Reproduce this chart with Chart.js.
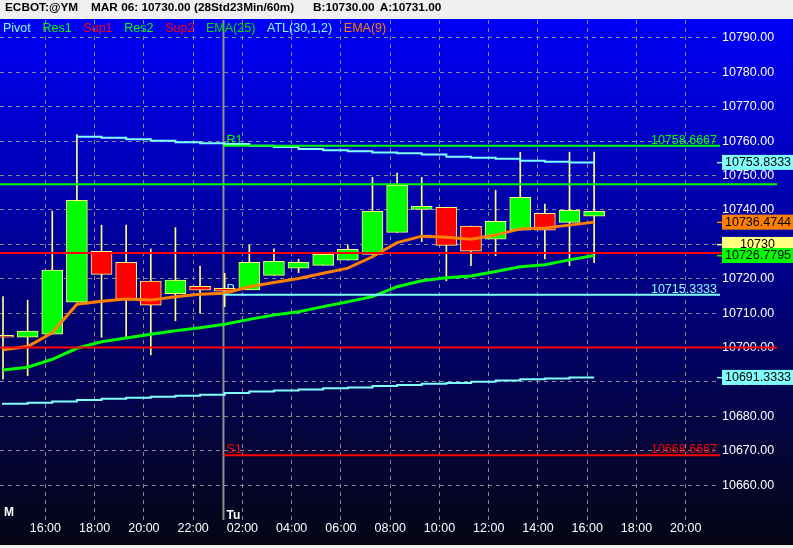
<!DOCTYPE html>
<html>
<head>
<meta charset="utf-8">
<title>ECBOT:@YM 60m</title>
<script src="https://cdn.jsdelivr.net/npm/chart.js@4.4.1/dist/chart.umd.min.js"></script>
<style>
  html, body { margin: 0; padding: 0; background: #f0f0f0; }
  #wrap { width: 793px; height: 548px; }
</style>
</head>
<body>
<div id="wrap"><canvas id="myChart" width="793" height="548"></canvas></div>
<script>
// tick labels
const timeLabels = ['16:00','18:00','20:00','22:00','02:00','04:00','06:00','08:00','10:00','12:00','14:00','16:00','18:00','20:00'];
const priceTicks = [10660,10670,10680,10690,10700,10710,10720,10730,10740,10750,10760,10770,10780,10790];

// hourly candles (one per bar, left to right)
const opens  = [10703.0,10703.0,10703.9,10713.2,10728.0,10724.8,10719.3,10715.7,10717.8,10717.2,10716.8,10721.0,10723.1,10723.9,10725.4,10727.1,10733.5,10740.2,10740.8,10735.3,10731.5,10734.1,10739.0,10736.4,10738.2];
const highs  = [10714.8,10713.8,10739.7,10761.9,10735.6,10735.6,10728.7,10734.9,10723.7,10721.6,10729.8,10728.7,10725.7,10727.1,10729.8,10749.5,10750.7,10749.5,10740.8,10735.3,10745.7,10756.8,10741.7,10756.8,10756.8];
const lows   = [10690.8,10691.8,10703.9,10713.2,10703.0,10703.0,10697.9,10707.8,10710.0,10711.9,10716.8,10721.0,10721.8,10723.9,10725.4,10727.1,10733.5,10730.8,10719.4,10723.8,10726.7,10734.1,10725.8,10723.8,10724.7];
const closes = [10703.0,10704.8,10722.5,10742.8,10721.3,10714.1,10712.3,10719.6,10716.7,10716.4,10724.8,10725.1,10724.8,10727.1,10728.6,10739.6,10747.2,10741.1,10729.7,10728.0,10736.7,10743.7,10734.1,10739.9,10739.6];

// indicators
const ema9  = [10699.4,10700.3,10704.3,10712.6,10713.5,10714.1,10713.8,10714.8,10715.5,10715.8,10717.7,10718.9,10720.1,10721.6,10723.1,10726.4,10730.5,10732.4,10732.1,10731.5,10732.7,10734.5,10734.8,10735.6,10736.4744];
const ema25 = [10693.5,10694.3,10696.6,10699.8,10701.7,10702.8,10703.9,10704.9,10705.8,10706.8,10708.2,10709.5,10710.4,10711.9,10713.3,10714.8,10717.7,10719.4,10720.3,10720.8,10722.1,10723.5,10724.1,10725.5,10726.7795];
const atlUpper = [null,null,null,10761.9,10761.3,10761.0,10760.6,10760.1,10759.7,10759.4,10759.2,10758.7,10758.3,10757.7,10757.4,10757.1,10756.7,10756.5,10756.1,10755.5,10755.2,10754.9,10754.3,10754.0,10753.8333];
const atlLower = [10683.4,10683.7,10684.0,10684.3,10684.8,10685.1,10685.4,10685.7,10686.0,10686.3,10686.8,10687.2,10687.5,10687.8,10688.2,10688.4,10688.8,10689.1,10689.5,10689.7,10690.1,10690.4,10690.8,10691.0,10691.3333];

// levels
const pivotNames  = ['R1','P','S1'];
const pivotValues = [10758.6667, 10715.3333, 10668.6667];
const resSupValues = [10747.5, 10727.5, 10700];
const lastPrice = 10730;

const legendNames = ['Pivot','Res1','Sup1','Res2','Sup2','EMA(25)','ATL(30,1,2)','EMA(9)'];
const headerParts = ['ECBOT:@YM', 'MAR 06: 10730.00 (28Std23Min/60m)', 'B:10730.00', 'A:10731.00'];

const FONT = '"Liberation Sans", Arial, sans-serif';
const GREEN = '#00ff00', RED = '#ff0000', CYAN = '#80ffff', ORANGE = '#ff8000', YELLOW = '#ffff80';
const legendColors = [CYAN, GREEN, RED, GREEN, RED, '#00e000', CYAN, ORANGE];
const pivotColors = [GREEN, CYAN, RED];
const resSupColors = [GREEN, RED, RED];

// x scale in bar units
const xMin = -0.122, xMax = 29.11, xFar = 31.43;
const dayBreak = 8.95;
const firstTick = 1.72;

const pts = arr => arr.map((v, i) => ({ x: i, y: v })).filter(p => p.y !== null);

const bgPlugin = {
  id: 'bg',
  beforeDraw(chart) {
    const c = chart.ctx;
    c.save();
    c.fillStyle = '#f0f0f0';
    c.fillRect(0, 0, chart.width, chart.height);
    const g = c.createLinearGradient(0, 19, 0, 545);
    g.addColorStop(0, '#0000f8');
    g.addColorStop(0.3, '#0000b8');
    g.addColorStop(0.55, '#000078');
    g.addColorStop(0.8, '#05053c');
    g.addColorStop(1, '#050514');
    c.fillStyle = g;
    c.fillRect(0, 19, chart.width, 526);
    // header line
    c.fillStyle = '#000';
    c.font = 'bold 11.8px ' + FONT;
    c.textBaseline = 'middle';
    const starts = [4, 91, 313, 377];
    let hx = 0;
    headerParts.forEach((t, k) => {
      hx = Math.max(starts[k], hx + 5);
      c.fillText(t, hx, 8);
      hx += c.measureText(t).width;
    });
    c.restore();
  },
  beforeDatasetsDraw(chart) {
    const c = chart.ctx, xs = chart.scales.x, ys = chart.scales.y, a = chart.chartArea;
    c.save();
    // day separator
    const bx = xs.getPixelForValue(dayBreak);
    c.strokeStyle = '#909090';
    c.lineWidth = 2;
    c.beginPath();
    c.moveTo(bx, a.top);
    c.lineTo(bx, a.bottom);
    c.stroke();
    // pivot names and values
    c.font = '12.5px ' + FONT;
    c.textBaseline = 'alphabetic';
    pivotValues.forEach((v, k) => {
      const y = ys.getPixelForValue(v) - 2;
      c.fillStyle = pivotColors[k];
      c.textAlign = 'left';
      c.fillText(pivotNames[k], bx + 3, y);
      c.textAlign = 'right';
      c.fillText(v.toFixed(4), a.right - 3, y);
    });
    c.restore();
  },
  afterDraw(chart) {
    const c = chart.ctx, xs = chart.scales.x, ys = chart.scales.y, a = chart.chartArea;
    c.save();
    // legend
    c.font = '12.5px ' + FONT;
    c.textBaseline = 'middle';
    let lx = 3;
    legendNames.forEach((n, k) => {
      c.fillStyle = legendColors[k];
      c.fillText(n, lx, 29);
      lx += c.measureText(n).width + 11.7;
    });
    // day marks
    c.fillStyle = '#fff';
    c.font = 'bold 12px ' + FONT;
    c.fillText('M', 4, 513);
    c.fillText('Tu', xs.getPixelForValue(dayBreak) + 3, 516);
    // price tags
    const last = arr => arr[arr.length - 1];
    const tags = [
      { v: last(atlUpper), bg: CYAN, t: last(atlUpper).toFixed(4) },
      { v: last(ema9), bg: ORANGE, t: last(ema9).toFixed(4) },
      { v: lastPrice, bg: YELLOW, t: String(lastPrice), mid: true },
      { v: last(ema25), bg: GREEN, t: last(ema25).toFixed(4) },
      { v: last(atlLower), bg: CYAN, t: last(atlLower).toFixed(4) }
    ];
    c.font = '12.5px ' + FONT;
    tags.forEach(tg => {
      const y = ys.getPixelForValue(tg.v);
      c.fillStyle = tg.bg;
      c.fillRect(a.right - 3, y - 0.5, 5, 1.5);
      c.fillRect(a.right + 2, y - 7.5, chart.width - a.right - 2, 15);
      c.fillStyle = '#000';
      if (tg.mid) {
        c.textAlign = 'center';
        c.fillText(tg.t, (a.right + 2 + chart.width) / 2, y + 0.5);
      } else {
        c.textAlign = 'left';
        c.fillText(tg.t, a.right + 5, y + 0.5);
      }
    });
    c.restore();
  }
};

document.addEventListener('DOMContentLoaded', () => {
  const ctx = document.getElementById('myChart');

  const lineSet = (data, color, width, extra) => Object.assign({
    type: 'line', data: data, borderColor: color, borderWidth: width,
    pointRadius: 0, tension: 0, order: 1
  }, extra || {});

  const datasets = [];
  // full width support / resistance
  resSupValues.forEach((v, k) => {
    datasets.push(lineSet([{ x: xMin, y: v }, { x: xFar, y: v }], resSupColors[k], 2, { clip: false }));
  });
  // today's pivots
  pivotValues.forEach((v, k) => {
    datasets.push(lineSet([{ x: dayBreak, y: v }, { x: xMax, y: v }], pivotColors[k], 2));
  });
  datasets.push(lineSet(pts(atlUpper), CYAN, 2, { stepped: 'after' }));
  datasets.push(lineSet(pts(atlLower), CYAN, 2, { stepped: 'after' }));
  datasets.push(lineSet(pts(ema25), GREEN, 3));
  datasets.push(lineSet(pts(ema9), ORANGE, 3));
  // candle bodies
  datasets.push({
    type: 'bar',
    data: opens.map((o, i) => ({ x: i, y: [o, closes[i]] })),
    backgroundColor: opens.map((o, i) => closes[i] > o ? GREEN : RED),
    borderColor: YELLOW,
    borderWidth: 1,
    borderSkipped: false,
    barThickness: 21,
    minBarLength: 2,
    grouped: false,
    order: 2
  });
  // wicks
  datasets.push({
    type: 'bar',
    data: lows.map((l, i) => ({ x: i, y: [l, highs[i]] })),
    backgroundColor: YELLOW,
    borderWidth: 0,
    barThickness: 1,
    grouped: false,
    order: 3
  });

  new Chart(ctx, {
    type: 'bar',
    data: { datasets: datasets },
    options: {
      responsive: false,
      animation: false,
      events: [],
      layout: { padding: { top: 20, left: 0, right: 0, bottom: 0 } },
      plugins: { legend: { display: false }, tooltip: { enabled: false } },
      scales: {
        x: {
          type: 'linear',
          min: xMin,
          max: xMax,
          offset: false,
          afterBuildTicks: s => { s.ticks = timeLabels.map((t, k) => ({ value: firstTick + 2 * k })); },
          afterFit: s => { s.height = 28; },
          ticks: {
            color: '#ffffff',
            font: { family: FONT, size: 12.5 },
            padding: 1,
            autoSkip: false,
            maxRotation: 0,
            minRotation: 0,
            callback: (v, i) => timeLabels[i]
          },
          grid: { color: '#888888', lineWidth: 1, drawTicks: false, offset: false },
          border: { display: false, dash: [4, 4] }
        },
        y: {
          position: 'right',
          min: 10649.88,
          max: 10795.23,
          afterBuildTicks: s => { s.ticks = priceTicks.map(v => ({ value: v })); },
          afterFit: s => { s.width = 73; },
          ticks: {
            color: '#ffffff',
            font: { family: FONT, size: 12.5 },
            padding: 2,
            callback: v => Number(v).toFixed(2)
          },
          grid: { color: '#888888', lineWidth: 1, drawTicks: false },
          border: { display: false, dash: [4, 4] }
        }
      }
    },
    plugins: [bgPlugin]
  });
});
</script>
</body>
</html>
